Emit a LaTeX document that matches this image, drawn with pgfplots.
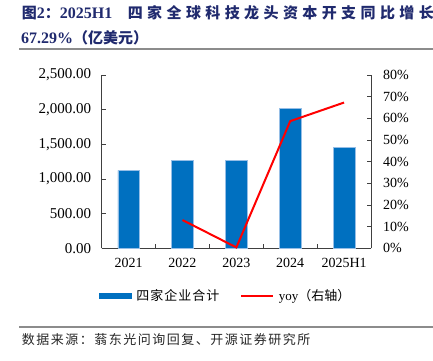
\documentclass[border=0pt]{standalone}
\usepackage{pgfplots}
\pgfplotsset{compat=1.18}
\usepackage{fontspec}
\setmainfont{Liberation Serif}
\newfontfamily\cjk{Noto Sans CJK SC}
\definecolor{barblue}{RGB}{0,112,192}
\definecolor{baredge}{RGB}{150,190,230}
\definecolor{titleblue}{RGB}{32,42,110}
\definecolor{axisgray}{RGB}{64,64,64}
\definecolor{rulegray}{RGB}{140,140,140}
\newcommand\ls[2]{\def\lsamt{#1}\lsloop#2\relax}
\def\lsloop#1{\ifx\relax#1\else#1\hspace{\lsamt}\expandafter\lsloop\fi}
\begin{document}
\begin{tikzpicture}
\path[use as bounding box] (0,0) rectangle (433bp,-361bp);
% title
\node[anchor=base west, inner sep=0pt, text=titleblue, font=\bfseries\fontsize{16bp}{18bp}\selectfont] at (21.7bp,-18.5bp)
 {{\cjk\bfseries\fontsize{15bp}{18bp}\selectfont 图}2{\cjk\bfseries\fontsize{15bp}{18bp}\selectfont ：}2025H1\hspace{15.5bp}{\cjk\bfseries\fontsize{15bp}{18bp}\selectfont\ls{4.4bp}{四家全球科技龙头资本开支同比增长}}};
\node[anchor=base west, inner sep=0pt, text=titleblue, font=\bfseries\fontsize{16bp}{18bp}\selectfont] at (21bp,-43bp)
 {67.29\%{\cjk\bfseries\fontsize{15bp}{18bp}\selectfont （亿美元）}};
\draw[rulegray, line width=2bp] (19.3bp,-49.3bp) -- (433bp,-49.3bp);
\draw[rulegray, line width=2bp] (19.3bp,-326.5bp) -- (433bp,-326.5bp);
\node[anchor=west, inner sep=0pt, font=\cjk\fontsize{13bp}{15bp}\selectfont, text=black!85] at (21.7bp,-340bp)
 {\ls{1.5bp}{数据来源：蓊东光问询回复、开源证券研究所}};
\pgfplotsset{
  common/.style={
    at={(101.7bp,-248.3bp)}, anchor=south west, scale only axis,
    width=269.3bp, height=173.3bp,
    xmin=-0.5, xmax=4.5,
    tick align=inside,
    major tick length=4bp, minor tick length=4bp,
    axis line style={axisgray, line width=0.8bp, -},
    every tick/.style={axisgray, line width=0.8bp},
    tick label style={font=\fontsize{14bp}{16bp}\selectfont},
    /pgf/number format/assume math mode=true,
  }
}
\begin{axis}[common,
  ymin=0, ymax=2500,
  axis x line*=bottom, axis y line*=left,
  xtick={0,1,2,3,4}, xticklabels={2021,2022,2023,2024,2025H1},
  major x tick style={draw=none},
  minor xtick={0.5,1.5,2.5,3.5},
  ytick={0,500,1000,1500,2000,2500},
  yticklabel style={xshift=-7bp, font=\fontsize{15bp}{17bp}\selectfont, /pgf/number format/.cd, fixed, fixed zerofill, precision=2, 1000 sep={,}},
  xticklabel style={yshift=-6bp},
  legend columns=2,
  legend style={at={(-0.01,-0.275)}, anchor=west, draw=none, fill=none, inner sep=0pt,
    font=\fontsize{13bp}{15bp}\selectfont,
    nodes={inner sep=0pt, anchor=west},
    /tikz/every odd column/.append style={column sep=5bp},
    /tikz/every even column/.append style={column sep=21bp}},
]
\addplot[ybar, bar width=21.6bp, fill=barblue, draw=baredge, line width=0.6bp,
  legend image code/.code={\fill[barblue] (0bp,-2.75bp) rectangle (31.5bp,2.75bp);}]
  coordinates {(0,1124) (1,1268) (2,1272) (3,2017) (4,1455)};
\addlegendentry{\cjk\ls{1bp}{四家企业合计}}
\addlegendimage{red, line width=2bp, legend image code/.code={\draw[red, line width=2bp] (0bp,0bp) -- (31.5bp,0bp);}}
\addlegendentry{yoy{\cjk （右轴）}}
\end{axis}
\begin{axis}[common,
  ymin=0, ymax=80,
  axis x line=none, axis y line*=right,
  ytick={0,10,...,80},
  yticklabel={\pgfmathprintnumber{\tick}\%},
  yticklabel style={xshift=8.5bp},
]
\addplot[red, line width=2bp, mark=none] coordinates {(1,13.06) (2,0.4) (3,58.7) (4,67.29)};
\end{axis}
\end{tikzpicture}
\end{document}
